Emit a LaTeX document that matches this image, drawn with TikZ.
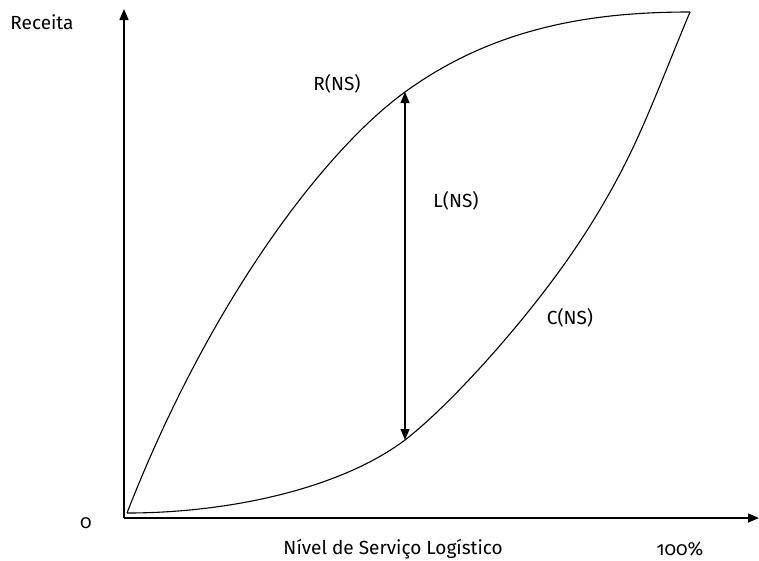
\documentclass[tikz,border=0pt]{standalone}
\usepackage{fontspec}
\setmainfont{Fira Sans}[Numbers=OldStyle]
\usetikzlibrary{arrows.meta}
\begin{document}
\begin{tikzpicture}[x=1pt,y=-1pt,
  axis/.style={line width=1.4pt,-{Triangle[length=11pt,width=9pt]}},
  curve/.style={line width=1.1pt},
  span/.style={line width=1.1pt,{Triangle[length=11pt,width=9pt]}-{Triangle[length=11pt,width=9pt]}},
  lbl/.style={inner sep=0pt,font=\fontsize{19}{22}\selectfont}]
\useasboundingbox (0,0) rectangle (759,560);
% axes
\coordinate (O) at (124,518);
\coordinate (ytop) at (124,9);
\coordinate (xend) at (759,518);
\draw[axis] (O) -- (ytop);
\draw[axis] (O) -- (xend);
% key points of the two curves
\coordinate (S) at (127,513);
\coordinate (E) at (690,12);
\coordinate (Ltop) at (405,92);
\coordinate (Lbot) at (405,440);
\coordinate (C1) at (563,266);
\coordinate (C2) at (627,160);
% revenue curve R(NS)
\draw[curve] (S) .. controls (210,300) and (325,150) .. (Ltop)
  .. controls (497,25) and (598,12) .. (E);
% cost curve C(NS)
\draw[curve] (S) .. controls (227,513) and (339,489.5) .. (Lbot)
  .. controls (450,405) and (518,329) .. (C1)
  .. controls (584,236.6) and (606,202) .. (C2)
  .. controls (648,118) and (669,62) .. (E);
% profit span L(NS)
\draw[span] (Ltop) -- (Lbot);
% labels
\node[lbl] (receita) at (42,22) {Receita};
\node[lbl] (rns) at (337,84) {R(NS)};
\node[lbl] (lns) at (456,201) {L(NS)};
\node[lbl] (cns) at (570,318) {C(NS)};
\node[lbl] (zero) at (86,523) {0};
\node[lbl] (xlabel) at (393,549) {Nível de Serviço Logístico};
\node[lbl] (cem) at (680,549) {100\%};
\end{tikzpicture}
\end{document}
